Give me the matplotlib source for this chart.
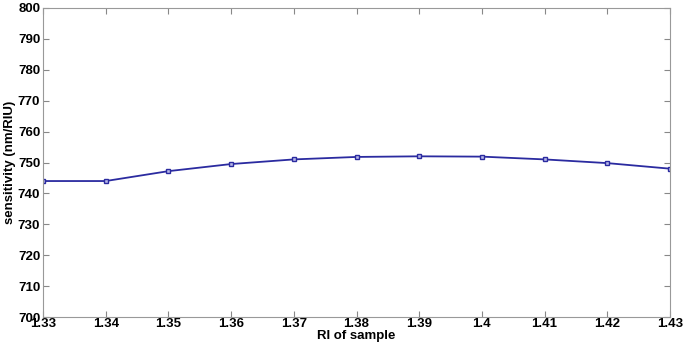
import matplotlib.pyplot as plt
import numpy as np

plt.rcParams['font.family'] = ['Liberation Sans', 'DejaVu Sans']
plt.rcParams['font.weight'] = 'bold'

ri = [1.33, 1.34, 1.35, 1.36, 1.37, 1.38, 1.39, 1.40, 1.41, 1.42, 1.43]
sens = [744, 744, 747.2, 749.5, 751, 751.8, 752, 751.9, 751, 749.8, 748]
xticks = [1.33, 1.34, 1.35, 1.36, 1.37, 1.38, 1.39, 1.40, 1.41, 1.42, 1.43]
xlabels = ['1.33', '1.34', '1.35', '1.36', '1.37', '1.38', '1.39', '1.4', '1.41', '1.42', '1.43']

fig = plt.figure(figsize=(6.85, 3.49), dpi=100)
ax = fig.add_axes([43/685, 1 - 317/349, 627/685, 309/349])

ax.plot(ri, sens, color='#2b2ba0', lw=1.3, marker='s', ms=3.5,
        mfc='#b8b8e8', mec='#2b2ba0', mew=1)

ax.set_xlim(1.33, 1.43)
ax.set_ylim(700, 800)
ax.set_xticks(xticks)
ax.set_xticklabels(xlabels)
ax.set_yticks(np.arange(700, 801, 10))
ax.tick_params(direction='in', top=True, right=True, labelsize=9.5, length=4,
               color='#888888')
ax.tick_params(axis='x', pad=1)
ax.tick_params(axis='y', pad=2)
for s in ax.spines.values():
    s.set_color('#999999')
ax.set_xlabel('RI of sample', fontsize=9.5, fontweight='bold', labelpad=0)
ax.set_ylabel('sensitivity (nm/RIU)', fontsize=9.5, fontweight='bold', labelpad=1)

plt.savefig('out.png', dpi=100)
